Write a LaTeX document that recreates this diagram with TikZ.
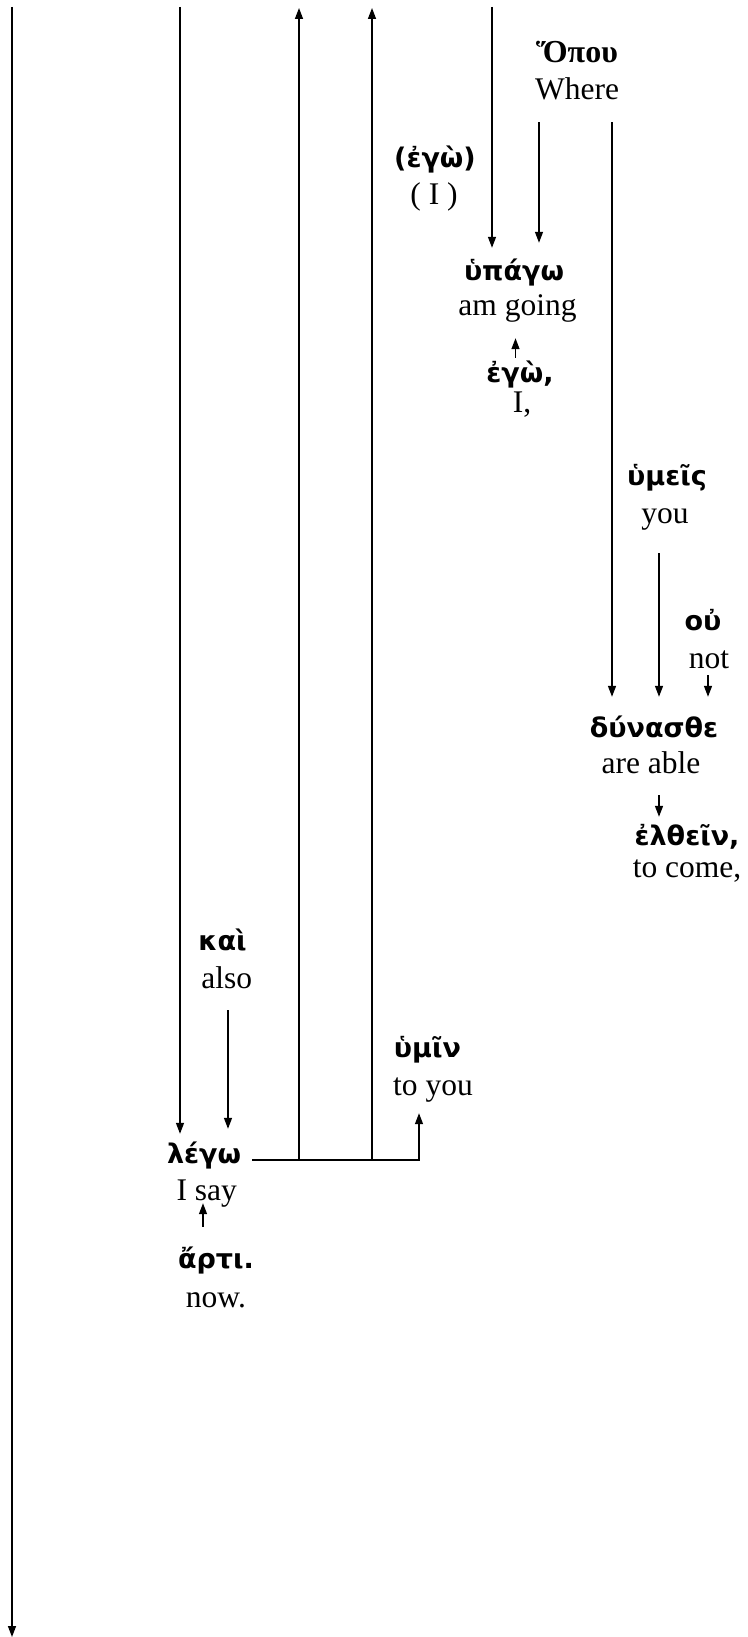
\documentclass[tikz,border=0pt]{standalone}
\usepackage{fontspec}
\setmainfont{Liberation Serif}
\newfontfamily\grk{DejaVu Sans}
\usetikzlibrary{arrows.meta}
\begin{document}
\begin{tikzpicture}[x=1pt,y=-1pt,
  conn/.style={line width=1.4pt},
  arr/.style={conn,-{Triangle[width=8pt,length=11pt]}},
  gk/.style={anchor=base,inner xsep=0pt,inner ysep=2pt,font=\grk\bfseries\fontsize{27}{31}\selectfont,text height=30pt,text depth=6pt},
  gs/.style={anchor=base,inner xsep=0pt,inner ysep=2pt,font=\bfseries\fontsize{32}{36}\selectfont,text height=30pt,text depth=6pt},
  en/.style={anchor=base,inner xsep=0pt,inner ysep=2pt,font=\fontsize{31.5}{35}\selectfont,text height=21pt,text depth=20pt},
]
\useasboundingbox (0,0) rectangle (747,1637);
% column coordinates
\coordinate (c12) at (12,7);
\coordinate (b12) at (12,1637);
\coordinate (c180) at (180,7);
\coordinate (c299) at (299,8);
\coordinate (c372) at (372,8);
\coordinate (c492) at (492,7);
\coordinate (x539) at (539,0);
\coordinate (x612) at (612,0);
\coordinate (x659) at (659,0);
\coordinate (x708) at (708,0);
\coordinate (x228) at (228,0);
\coordinate (x515) at (515.5,0);
\coordinate (x203) at (203,0);
\coordinate (x419) at (419,0);

% nodes
\node[gs] (opou) at (577,63) {Ὅπου};
\node[en] (where) at (577,100) {Where};
\node[gk] (ego1) at (435,168) {(ἐγὼ)};
\node[en] (i1) at (434,205) {( I )};
\node[gk] (upago) at (514,280) {ὑπάγω};
\node[en] (going) at (517.5,315) {am going};
\node[gk] (ego2) at (520,382) {ἐγὼ,};
\node[en] (i2) at (522,412) {I,};
\node[gk] (umeis) at (667,485) {ὑμεῖς};
\node[en] (you) at (665,523) {you};
\node[gk] (ou) at (703,630) {οὐ};
\node[en] (not) at (709,668) {not};
\node[gk] (dyn) at (654,737) {δύνασθε};
\node[en] (able) at (651,773) {are able};
\node[gk] (elth) at (687,845) {ἐλθεῖν,};
\node[en] (come) at (687,877) {to come,};
\node[gk] (kai) at (222.5,950) {καὶ};
\node[en] (also) at (226.7,988) {also};
\node[gk] (umin) at (427.5,1057) {ὑμῖν};
\node[en] (toyou) at (433,1095) {to you};
\node[gk] (lego) at (204,1163) {λέγω};
\node[en] (isay) at (206.7,1200) {I say};
\node[gk] (arti) at (216,1268) {ἄρτι.};
\node[en] (now) at (216,1307) {now.};

% connectors
\draw[arr] (c12) -- (b12);
\draw[arr] (c180) -- ([yshift=-3pt]lego.north -| c180);
\coordinate (h0) at ([xshift=11pt,yshift=3pt]lego.base east);
\draw[arr] (h0) -- (h0 -| x419) -- ([yshift=4pt]toyou.south -| x419);
\draw[arr] (h0 -| c299) -- (c299);
\draw[arr] (h0 -| c372) -- (c372);
\draw[arr] (c492) -- (upago.north -| c492);
\draw[arr] (where.south -| x539) -- ([yshift=5pt]upago.north -| x539);
\draw[arr] (where.south -| x612) -- ([yshift=8pt]dyn.north -| x612);
\draw[arr] ([yshift=-8pt]you.south -| x659) -- ([yshift=8pt]dyn.north -| x659);
\draw[arr] ([yshift=15pt]not.south -| x708) -- ([yshift=8pt]dyn.north -| x708);
\draw[arr] (able.south -| x659) -- ([yshift=-4pt]elth.north -| x659);
\draw[arr] (also.south -| x228) -- ([yshift=2pt]lego.north -| x228);
\draw[arr] ([yshift=-8pt]ego2.north -| x515) -- ([yshift=-1pt]going.south -| x515);
\draw[arr] ([yshift=9pt]arti.north -| x203) -- ([yshift=19pt]isay.south -| x203);
\end{tikzpicture}
\end{document}
